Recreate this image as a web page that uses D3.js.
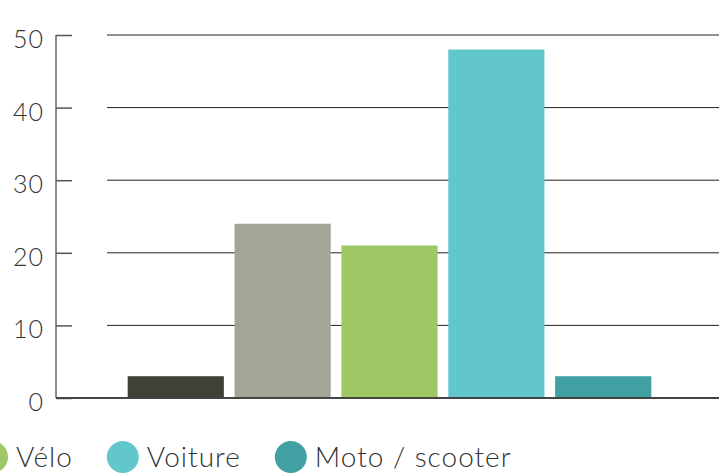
<!DOCTYPE html>
<html>
<head>
<meta charset="utf-8">
<script src="https://cdn.jsdelivr.net/npm/d3@7"></script>
<style>
  body { margin: 0; background: #fff; }
  text { font-family: "Lato", "Open Sans", sans-serif; font-weight: 300; fill: #333; }
</style>
</head>
<body>
<div id="chart"></div>
<script>
let categories = ["À pied", "Transports en commun", "Vélo", "Voiture", "Moto / scooter"];
let values = [3, 24, 21, 48, 3];
let colors = ["#3e4237", "#a2a697", "#9ec766", "#62c7cc", "#40a0a2"];
let yTicks = [0, 10, 20, 30, 40, 50];
let legendItems = ["Vélo", "Voiture", "Moto / scooter"];

function drawChart() {
    let width = 719;
    let height = 473;

    let svg = d3.select("#chart")
        .append("svg")
        .attr("width", width)
        .attr("height", height);

    let y = d3.scaleLinear()
        .domain([0, 50])
        .range([398, 35]);

    let x = d3.scaleBand()
        .domain(categories)
        .range([117, 662])
        .paddingInner(0.1)
        .paddingOuter(0.1);

    // gridlines
    svg.append("g")
        .selectAll("line")
        .data(yTicks.filter(d => d > 0))
        .enter()
        .append("line")
        .attr("x1", 107)
        .attr("x2", width)
        .attr("y1", d => y(d))
        .attr("y2", d => y(d))
        .attr("stroke", "#222")
        .attr("stroke-width", 1);

    // left axis
    let axis = d3.axisLeft(y)
        .tickValues(yTicks)
        .tickSize(-16)
        .tickPadding(12);

    let axisG = svg.append("g")
        .attr("transform", "translate(56,0)")
        .call(axis);

    axisG.select(".domain").remove();
    axisG.selectAll(".tick line")
        .attr("stroke", "#555")
        .attr("stroke-width", 1.5);
    axisG.selectAll(".tick text")
        .attr("dy", "0.5em")
        .style("font-size", "25px")
        .style("letter-spacing", "1px")
        .style("font-family", "Lato, 'Open Sans', sans-serif")
        .style("font-weight", 300)
        .attr("fill", "#333");

    svg.append("line")
        .attr("x1", 56).attr("x2", 56)
        .attr("y1", y(50)).attr("y2", y(0))
        .attr("stroke", "#666")
        .attr("stroke-width", 1.5);

    // bars
    svg.append("g")
        .selectAll("rect")
        .data(values)
        .enter()
        .append("rect")
        .attr("x", (d, i) => x(categories[i]))
        .attr("width", x.bandwidth())
        .attr("y", d => y(d))
        .attr("height", d => y(0) - y(d))
        .attr("fill", (d, i) => colors[i]);

    // baseline
    svg.append("line")
        .attr("x1", 56).attr("x2", width)
        .attr("y1", y(0)).attr("y2", y(0))
        .attr("stroke", "#444")
        .attr("stroke-width", 2);

    // legend (starts off the left edge, as in the original)
    let legend = svg.append("g")
        .attr("transform", "translate(0,457)");

    let cx = -8;
    legendItems.forEach(function (name, i) {
        let color = colors[categories.indexOf(name)];
        legend.append("circle")
            .attr("cx", cx)
            .attr("cy", 0)
            .attr("r", 16)
            .attr("fill", color);
        let t = legend.append("text")
            .attr("x", cx + 24)
            .attr("y", 0)
            .attr("dy", "0.35em")
            .style("font-size", "28px")
            .style("letter-spacing", "1px")
            .text(name);
        cx = cx + 24 + t.node().getComputedTextLength() + 50;
    });
}

drawChart();
</script>
</body>
</html>
